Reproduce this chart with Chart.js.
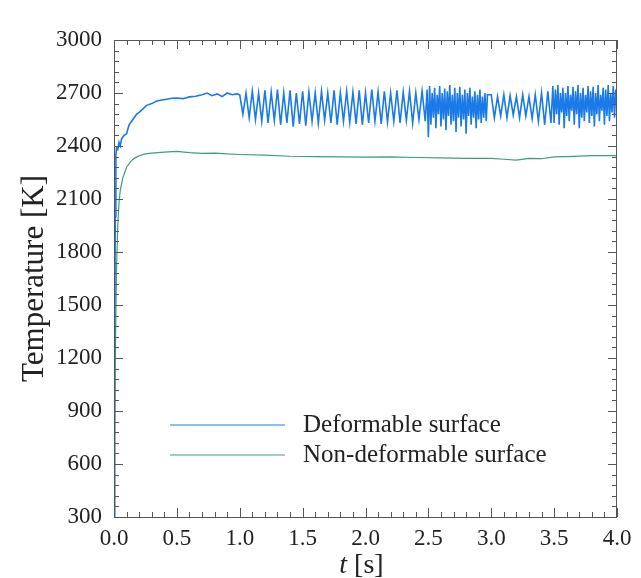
<!DOCTYPE html>
<html>
<head>
<meta charset="utf-8">
<script src="https://cdn.jsdelivr.net/npm/chart.js@4"></script>
<style>
  html, body { margin: 0; padding: 0; background: #fff; }
  #wrap { width: 641px; height: 578px; }
</style>
</head>
<body>
<div id="wrap"><canvas id="myChart" width="641" height="578"></canvas></div>
<script>
// Deformable surface: time [s] and temperature [K]
const defTime = [
	0, 0.005, 0.01, 0.015, 0.02, 0.03, 0.04, 0.05, 0.06, 0.08, 0.1, 0.12, 0.14, 0.16, 0.18, 0.2, 0.23, 0.26, 0.3, 0.34,
	0.38, 0.42, 0.46, 0.5, 0.55, 0.6, 0.65, 0.7, 0.74, 0.78, 0.82, 0.86, 0.9, 0.94, 0.98, 1.0,
	1.025, 1.05, 1.075, 1.1, 1.125, 1.15, 1.175, 1.2, 1.225, 1.25, 1.275, 1.3, 1.325, 1.35, 1.375, 1.4, 1.425, 1.45, 1.475, 1.5,
	1.525, 1.55, 1.575, 1.6, 1.625, 1.65, 1.675, 1.7, 1.725, 1.75, 1.775, 1.8, 1.825, 1.85, 1.875, 1.9, 1.925, 1.95, 1.975, 2.0,
	2.025, 2.05, 2.075, 2.1, 2.125, 2.15, 2.175, 2.2, 2.225, 2.25, 2.275, 2.3, 2.325, 2.35, 2.375, 2.4, 2.425, 2.45, 2.475,
	2.49, 2.5, 2.51, 2.52, 2.53, 2.54, 2.55, 2.56, 2.57, 2.58, 2.59, 2.6, 2.61, 2.62, 2.63, 2.64, 2.65, 2.66, 2.67, 2.68, 2.69,
	2.7, 2.71, 2.72, 2.73, 2.74, 2.75, 2.76, 2.77, 2.78, 2.79, 2.8, 2.81, 2.82, 2.83, 2.84, 2.85, 2.86, 2.87, 2.88, 2.89,
	2.9, 2.91, 2.92, 2.93, 2.94, 2.95, 2.96, 2.97,
	3.0, 3.025, 3.05, 3.075, 3.1, 3.125, 3.15, 3.175, 3.2, 3.225, 3.25, 3.275, 3.3, 3.325, 3.35, 3.375, 3.4, 3.425, 3.45, 3.475,
	3.49, 3.5, 3.51, 3.52, 3.53, 3.54, 3.55, 3.56, 3.57, 3.58, 3.59, 3.6, 3.61, 3.62, 3.63, 3.64, 3.65, 3.66, 3.67, 3.68, 3.69,
	3.7, 3.71, 3.72, 3.73, 3.74, 3.75, 3.76, 3.77, 3.78, 3.79, 3.8, 3.81, 3.82, 3.83, 3.84, 3.85, 3.86, 3.87, 3.88, 3.89,
	3.9, 3.91, 3.92, 3.93, 3.94, 3.95, 3.96, 3.97, 3.98, 3.99, 4.0,
];
const defTemp = [
	300, 1200, 2000, 2350, 2390, 2380, 2420, 2400, 2440, 2460, 2470, 2520, 2540, 2560, 2580, 2590, 2610, 2630, 2640, 2655,
	2660, 2665, 2670, 2672, 2668, 2678, 2682, 2690, 2700, 2685, 2695, 2680, 2700, 2690, 2695, 2690,
	2580, 2700, 2560, 2710, 2550, 2700, 2540, 2715, 2530, 2705, 2545, 2720, 2520, 2700, 2530, 2715, 2510, 2700, 2525, 2710,
	2515, 2705, 2540, 2700, 2530, 2710, 2545, 2700, 2530, 2715, 2520, 2700, 2540, 2710, 2535, 2705, 2525, 2715, 2520, 2700,
	2530, 2720, 2540, 2705, 2525, 2710, 2535, 2700, 2540, 2715, 2530, 2705, 2545, 2710, 2530, 2700, 2550, 2710, 2540,
	2720, 2450, 2740, 2520, 2700, 2560, 2730, 2500, 2690, 2580, 2740, 2510, 2700, 2550, 2725, 2490, 2710, 2570, 2745, 2520, 2690,
	2540, 2730, 2480, 2700, 2560, 2735, 2510, 2690, 2550, 2720, 2470, 2700, 2570, 2730, 2520, 2680, 2560, 2710, 2500, 2690,
	2550, 2720, 2530, 2680, 2560, 2700, 2540, 2690,
	2690, 2560, 2680, 2570, 2690, 2560, 2685, 2575, 2680, 2560, 2690, 2570, 2680, 2555, 2690, 2540, 2700, 2520, 2710, 2530,
	2740, 2530, 2720, 2580, 2745, 2520, 2700, 2590, 2730, 2500, 2700, 2570, 2740, 2540, 2690, 2600, 2735, 2520, 2710, 2580, 2745,
	2500, 2700, 2560, 2730, 2540, 2690, 2590, 2740, 2530, 2710, 2570, 2735, 2510, 2700, 2580, 2745, 2540, 2690, 2600, 2730,
	2520, 2720, 2570, 2745, 2540, 2700, 2590, 2740, 2560, 2720, 2620,
];

// Non-deformable surface
const nonDefTime = [
	0, 0.005, 0.01, 0.02, 0.03, 0.04, 0.05, 0.07, 0.1, 0.13, 0.16, 0.2, 0.25, 0.3, 0.4, 0.5, 0.6, 0.7, 0.8, 0.9,
	1.0, 1.2, 1.4, 1.6, 1.8, 2.0, 2.2, 2.4, 2.6, 2.8, 3.0, 3.1, 3.2, 3.3, 3.4, 3.5, 3.6, 3.8, 4.0,
];
const nonDefTemp = [
	300, 700, 1200, 1700, 1950, 2080, 2150, 2220, 2280, 2310, 2330, 2345, 2355, 2360, 2365, 2370, 2362, 2358, 2360, 2355,
	2352, 2348, 2342, 2340, 2338, 2337, 2338, 2335, 2333, 2330, 2330, 2325, 2320, 2330, 2328, 2338, 2340, 2345, 2345,
];

const seriesLabels = ["Deformable surface", "Non-deformable surface"];
const seriesColors = ["#1a7ae8", "#3f9c84"];

// axis ticks
const xMajor = [0, 0.5, 1, 1.5, 2, 2.5, 3, 3.5, 4];
const xMinor = [0.1, 0.2, 0.3, 0.4, 0.6, 0.7, 0.8, 0.9, 1.1, 1.2, 1.3, 1.4, 1.6, 1.7, 1.8, 1.9, 2.1, 2.2, 2.3, 2.4,
	2.6, 2.7, 2.8, 2.9, 3.1, 3.2, 3.3, 3.4, 3.6, 3.7, 3.8, 3.9];
const yMajor = [300, 600, 900, 1200, 1500, 1800, 2100, 2400, 2700, 3000];
const yMinor = [360, 420, 480, 540, 660, 720, 780, 840, 960, 1020, 1080, 1140, 1260, 1320, 1380, 1440, 1560, 1620, 1680, 1740,
	1860, 1920, 1980, 2040, 2160, 2220, 2280, 2340, 2460, 2520, 2580, 2640, 2760, 2820, 2880, 2940];

const serif = "'Liberation Serif', 'DejaVu Serif', serif";

function toPoints(xs, ys) {
	return xs.map((x, i) => ({ x: x, y: ys[i] }));
}

// frame, inward ticks, legend and x title
const framePlugin = {
	id: "frame",
	afterDraw(chart) {
		const { ctx, chartArea: a, scales } = chart;
		const xs = scales.x, ys = scales.y;
		ctx.save();
		ctx.strokeStyle = "#555";
		ctx.lineWidth = 1;
		ctx.strokeRect(a.left + 0.5, a.top + 0.5, a.right - a.left - 1, a.bottom - a.top);

		ctx.beginPath();
		const tickX = (v, len) => {
			const p = Math.round(xs.getPixelForValue(v)) + 0.5;
			ctx.moveTo(p, a.bottom); ctx.lineTo(p, a.bottom - len);
			ctx.moveTo(p, a.top); ctx.lineTo(p, a.top + len);
		};
		const tickY = (v, len) => {
			const p = Math.round(ys.getPixelForValue(v)) + 0.5;
			ctx.moveTo(a.left, p); ctx.lineTo(a.left + len, p);
			ctx.moveTo(a.right, p); ctx.lineTo(a.right - len, p);
		};
		xMajor.forEach(v => tickX(v, 9));
		xMinor.forEach(v => tickX(v, 5));
		yMajor.forEach(v => tickY(v, 9));
		yMinor.forEach(v => tickY(v, 5));
		ctx.stroke();

		// legend
		const lx0 = a.left + 56, lx1 = a.left + 171, ty = [425, 455];
		ctx.font = "25px " + serif;
		ctx.textBaseline = "middle";
		ctx.fillStyle = "#222";
		chart.data.datasets.forEach((ds, i) => {
			ctx.strokeStyle = ds.borderColor;
			ctx.lineWidth = 1.2;
			ctx.beginPath();
			ctx.moveTo(lx0, ty[i]); ctx.lineTo(lx1, ty[i]);
			ctx.stroke();
			ctx.fillText(ds.label, a.left + 189, ty[i]);
		});

		// x title: italic t [s]
		ctx.textBaseline = "alphabetic";
		ctx.font = "italic 28px " + serif;
		const w1 = ctx.measureText("t").width;
		ctx.font = "28px " + serif;
		const w2 = ctx.measureText(" [s]").width;
		const cx = (a.left + a.right) / 2 - 4;
		const start = cx - (w1 + w2) / 2;
		ctx.font = "italic 28px " + serif;
		ctx.fillText("t", start, 573);
		ctx.font = "28px " + serif;
		ctx.fillText(" [s]", start + w1, 573);
		ctx.restore();
	},
};

const ctx = document.getElementById("myChart");

let myChart = new Chart(ctx, {
	type: "line",
	data: {
		datasets: [
			{
				label: seriesLabels[0],
				data: toPoints(defTime, defTemp),
				borderColor: seriesColors[0],
				borderWidth: 1.6,
				pointRadius: 0,
				tension: 0,
				fill: false,
			},
			{
				label: seriesLabels[1],
				data: toPoints(nonDefTime, nonDefTemp),
				borderColor: seriesColors[1],
				borderWidth: 1.2,
				pointRadius: 0,
				tension: 0,
				fill: false,
			},
		],
	},
	options: {
		responsive: false,
		animation: false,
		layout: {
			padding: { top: 40, right: 24, left: 0, bottom: 0 },
		},
		plugins: {
			legend: { display: false },
			tooltip: { enabled: false },
		},
		scales: {
			x: {
				type: "linear",
				min: 0,
				max: 4,
				grid: { display: false, drawTicks: false },
				border: { display: false },
				ticks: {
					stepSize: 0.5,
					padding: 8,
					color: "#222",
					font: { family: serif, size: 23 },
					maxRotation: 0,
					callback: (v) => v.toFixed(1),
				},
				afterFit: (s) => { s.height = 61; },
			},
			y: {
				min: 300,
				max: 3000,
				grid: { display: false, drawTicks: false },
				border: { display: false },
				ticks: {
					stepSize: 300,
					padding: 12,
					color: "#222",
					font: { family: serif, size: 23 },
					callback: (v) => String(v),
				},
				title: {
					display: true,
					text: "Temperature [K]",
					color: "#222",
					font: { family: serif, size: 31 },
					padding: { top: 16, bottom: 0 },
				},
				afterFit: (s) => { s.width = 114; },
			},
		},
	},
	plugins: [framePlugin],
});
</script>
</body>
</html>
